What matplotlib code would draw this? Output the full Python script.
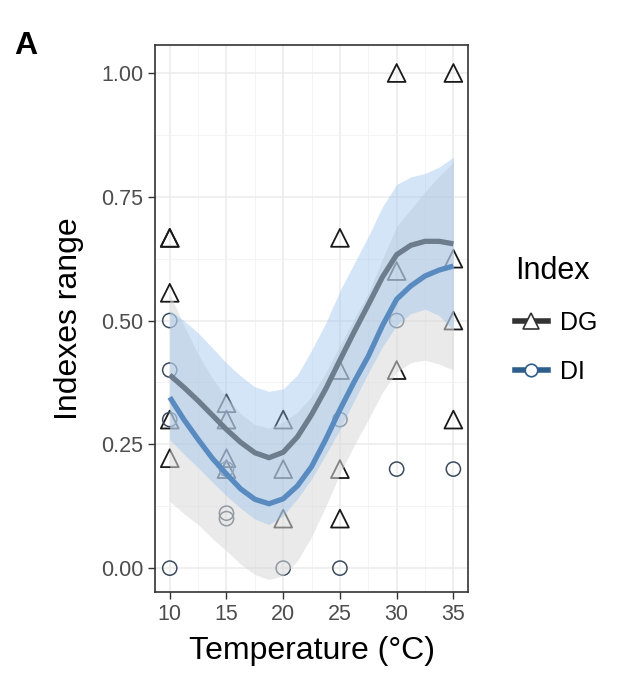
import numpy as np
import matplotlib
matplotlib.use('Agg')
import matplotlib.pyplot as plt
from matplotlib.lines import Line2D
from matplotlib.ticker import MultipleLocator

plt.rcParams['font.family'] = ['Liberation Sans', 'DejaVu Sans']

# observed points
dg_temp = [10, 10, 10, 10, 10, 15, 15, 15, 15, 20, 20, 20, 25, 25, 25, 25, 30, 30, 30, 35, 35, 35, 35]
dg_val = [0.667, 0.667, 0.556, 0.30, 0.222, 0.333, 0.30, 0.222, 0.20, 0.30, 0.20, 0.10,
          0.667, 0.40, 0.20, 0.10, 1.0, 0.60, 0.40, 1.0, 0.625, 0.50, 0.30]
di_temp = [10, 10, 10, 10, 15, 15, 15, 20, 25, 25, 30, 30, 35]
di_val = [0.50, 0.40, 0.30, 0.00, 0.20, 0.10, 0.111, 0.00, 0.30, 0.00, 0.50, 0.20, 0.20]

# smoothed fits
fit_temp = [10, 11.25, 12.5, 13.75, 15, 16.25, 17.5, 18.75, 20, 21.25, 22.5,
            23.75, 25, 26.25, 27.5, 28.75, 30, 31.25, 32.5, 33.75, 35]
dg_fit = [0.39, 0.365, 0.338, 0.309, 0.28, 0.254, 0.233, 0.223, 0.234, 0.265, 0.31,
          0.362, 0.42, 0.477, 0.532, 0.588, 0.633, 0.652, 0.66, 0.66, 0.655]
dg_hi = [0.52, 0.50, 0.475, 0.445, 0.414, 0.388, 0.366, 0.357, 0.362, 0.39, 0.44,
         0.495, 0.56, 0.615, 0.67, 0.73, 0.775, 0.79, 0.797, 0.81, 0.83]
dg_lo = [0.26, 0.23, 0.203, 0.174, 0.146, 0.121, 0.099, 0.088, 0.106, 0.14, 0.18,
         0.229, 0.28, 0.338, 0.394, 0.447, 0.49, 0.514, 0.523, 0.51, 0.48]
di_fit = [0.345, 0.30, 0.26, 0.222, 0.19, 0.16, 0.139, 0.13, 0.14, 0.166, 0.205,
          0.26, 0.32, 0.376, 0.428, 0.49, 0.543, 0.57, 0.59, 0.602, 0.61]
di_hi = [0.555, 0.49, 0.432, 0.384, 0.345, 0.312, 0.29, 0.283, 0.295, 0.315, 0.347,
         0.395, 0.45, 0.503, 0.555, 0.625, 0.69, 0.725, 0.76, 0.792, 0.82]
di_lo = [0.135, 0.11, 0.088, 0.06, 0.035, 0.008, -0.013, -0.023, -0.015, 0.015, 0.063,
         0.125, 0.19, 0.248, 0.3, 0.355, 0.396, 0.415, 0.42, 0.412, 0.40]

fig = plt.figure(figsize=(6.25, 6.78), dpi=100)
ax = fig.add_axes([0.248, 0.127, 0.501, 0.807])

# points first, smooth layers drawn over them
ax.scatter(dg_temp, dg_val, marker='^', s=165, facecolors='none',
           edgecolors='#1a1a1a', linewidths=1.3, zorder=2)
ax.scatter(di_temp, di_val, marker='o', s=105, facecolors='none',
           edgecolors='#3a4c5e', linewidths=1.1, zorder=2)

ax.fill_between(fit_temp, di_lo, di_hi, color='#d9d9d9', alpha=0.55, lw=0, zorder=3)
ax.fill_between(fit_temp, dg_lo, dg_hi, color='#8fbdee', alpha=0.38, lw=0, zorder=3)
ax.plot(fit_temp, dg_fit, color='#6d7d8e', lw=3.8, zorder=4, solid_capstyle='butt')
ax.plot(fit_temp, di_fit, color='#5a8bc0', lw=3.8, zorder=4, solid_capstyle='butt')

ax.set_xlim(8.7, 36.3)
ax.set_ylim(-0.048, 1.057)
ax.set_xticks([10, 15, 20, 25, 30, 35])
ax.set_yticks([0, 0.25, 0.5, 0.75, 1.0])
ax.set_yticklabels(['0.00', '0.25', '0.50', '0.75', '1.00'])
ax.xaxis.set_minor_locator(MultipleLocator(2.5))
ax.yaxis.set_minor_locator(MultipleLocator(0.125))
ax.grid(which='major', color='#ebebeb', lw=1.1, zorder=0)
ax.grid(which='minor', color='#f2f2f2', lw=0.6, zorder=0)
ax.set_axisbelow(True)
ax.tick_params(which='minor', length=0)
ax.tick_params(which='major', length=5, width=1, color='#333333',
               labelsize=15.5, labelcolor='#4d4d4d')
for sp in ax.spines.values():
    sp.set_color('#333333')
    sp.set_linewidth(1.2)

ax.set_xlabel('Temperature (°C)', fontsize=23, labelpad=8)
ax.set_ylabel('Indexes range', fontsize=23, labelpad=12)

fig.text(0.022, 0.932, 'A', fontsize=23, fontweight='bold', va='center')

handles = [
    Line2D([], [], color='#333333', lw=4, marker='^', markersize=11,
           markerfacecolor='white', markeredgecolor='#333333', markeredgewidth=1.2),
    Line2D([], [], color='#2e5f8c', lw=4, marker='o', markersize=9,
           markerfacecolor='white', markeredgecolor='#2e5f8c', markeredgewidth=1.2),
]
leg = fig.legend(handles, ['DG', 'DI'], title='Index', loc='center left',
                 bbox_to_anchor=(0.808, 0.528), frameon=False, fontsize=18,
                 title_fontsize=22, handlelength=1.3, handletextpad=0.5,
                 labelspacing=1.0, borderaxespad=0)
leg._legend_box.align = 'left'

fig.savefig('out.png', dpi=100)
